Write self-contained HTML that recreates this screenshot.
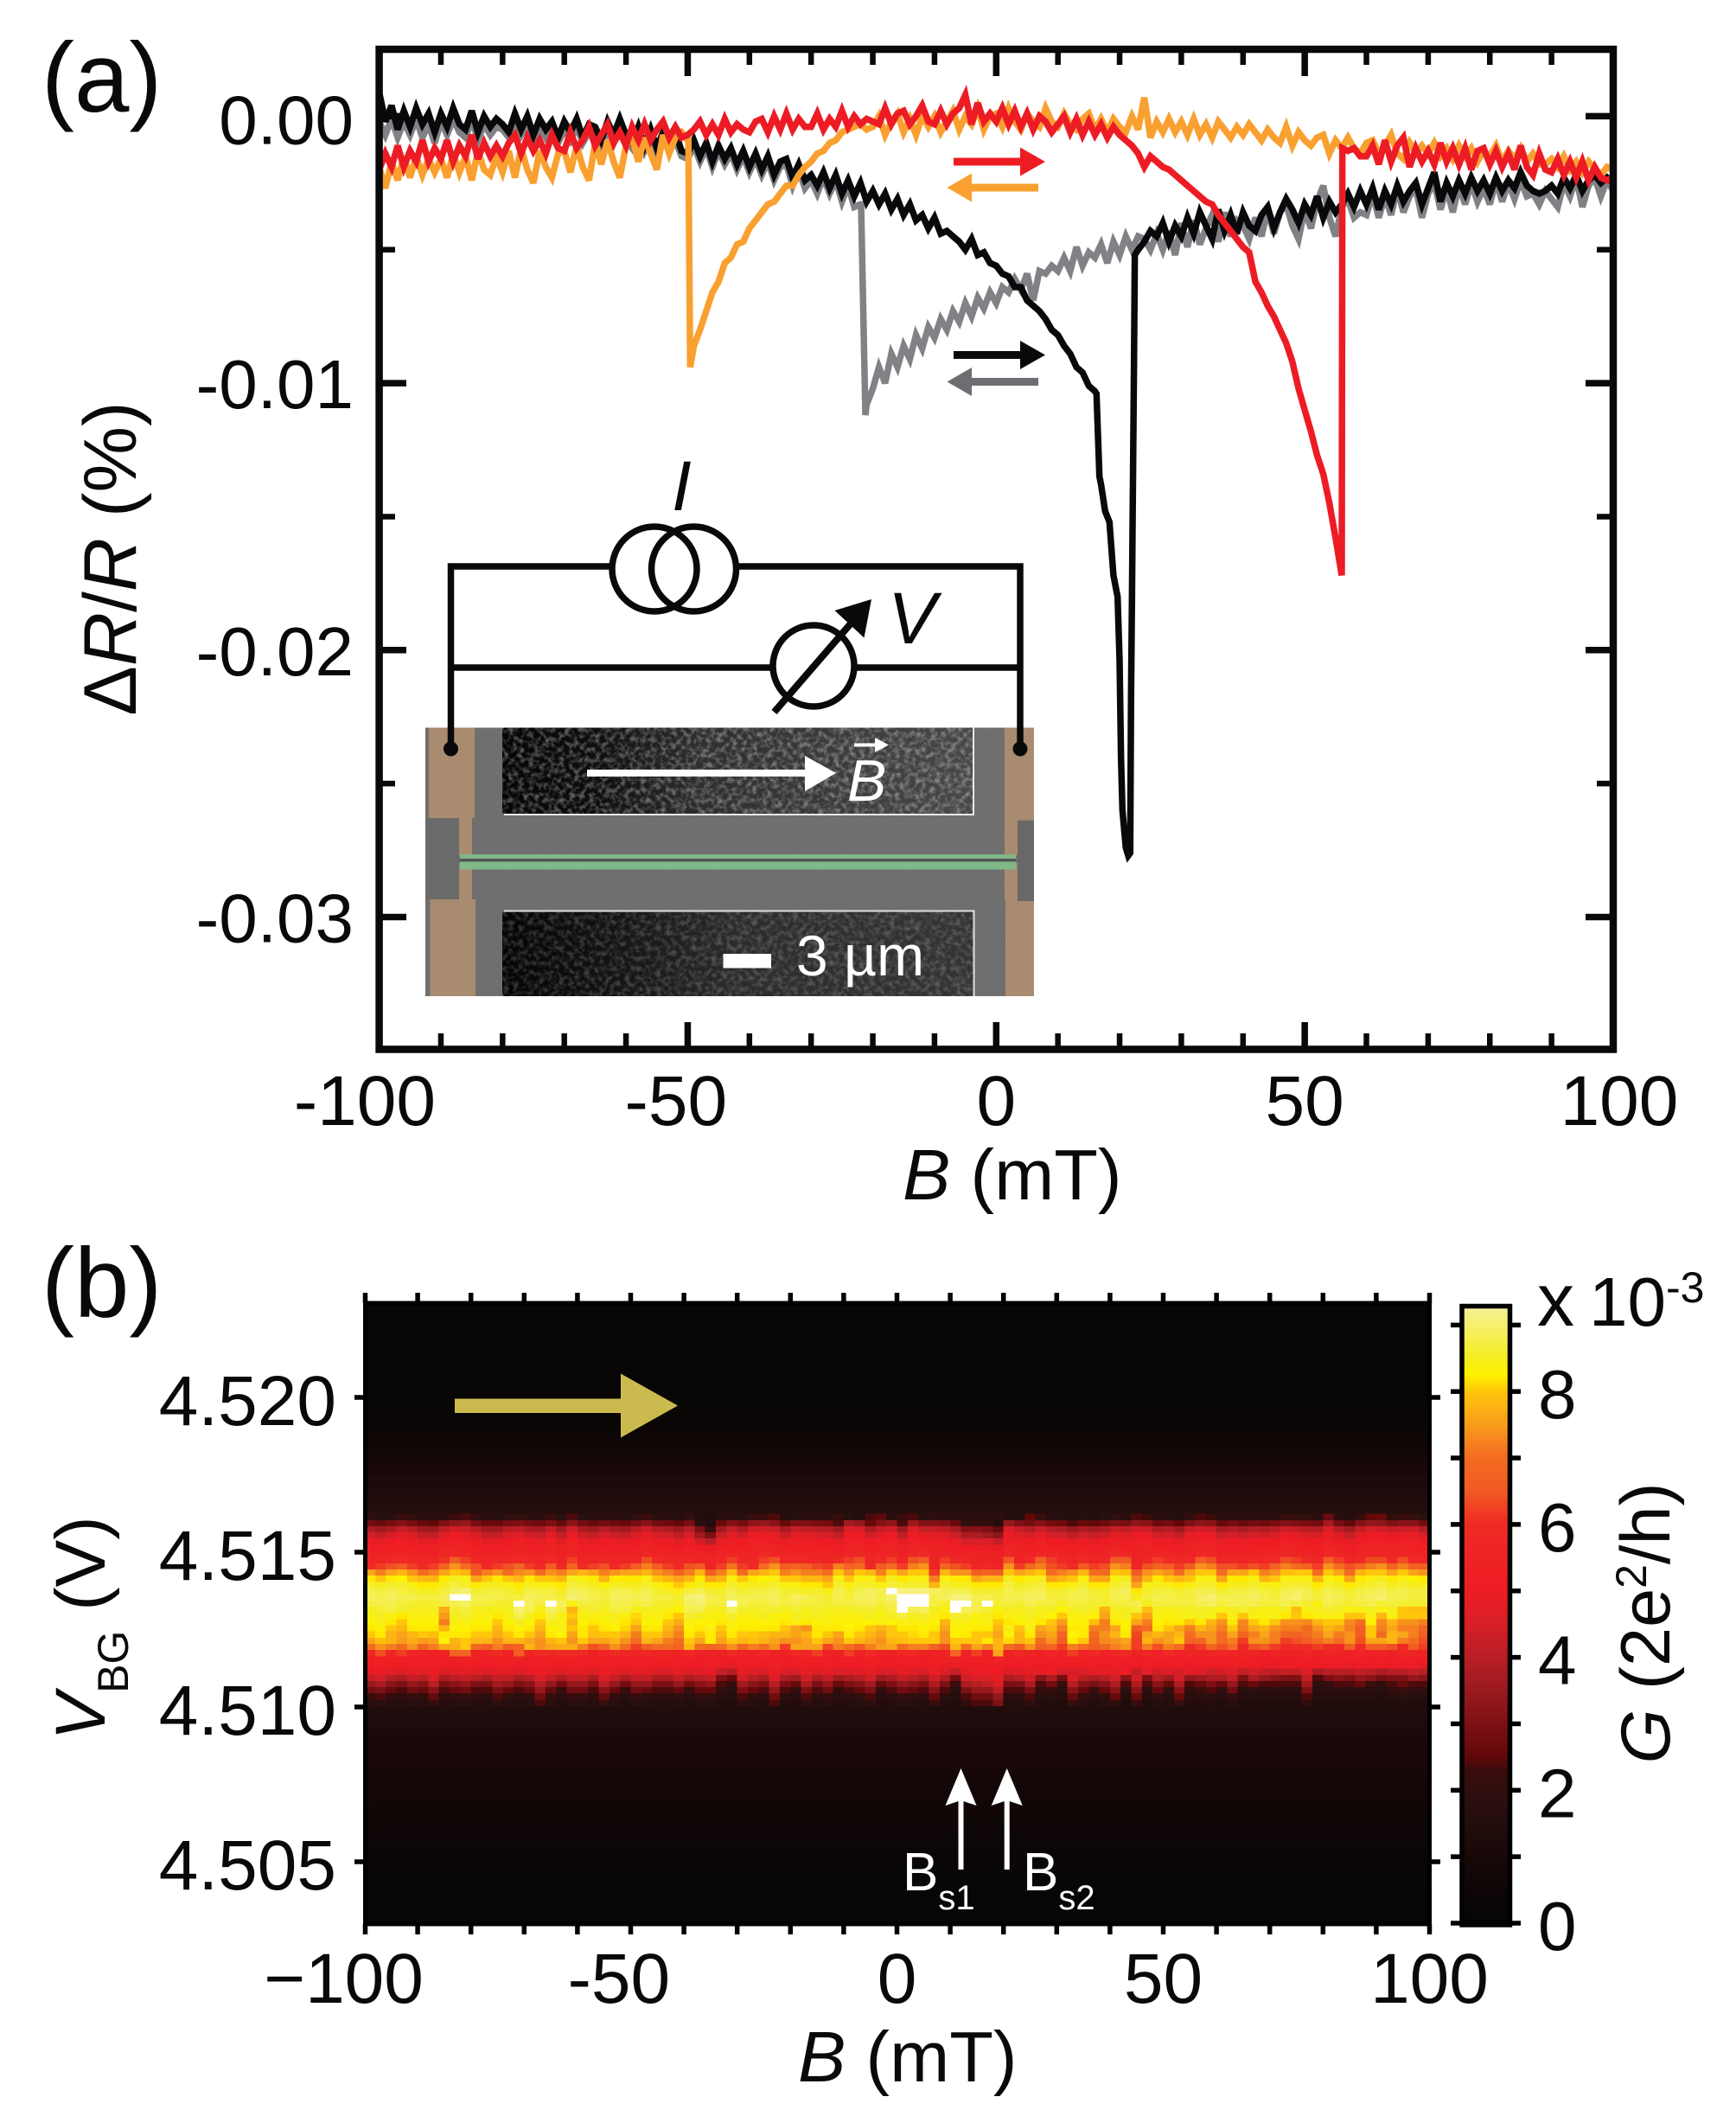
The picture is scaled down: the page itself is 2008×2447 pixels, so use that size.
<!DOCTYPE html>
<html lang="en">
<head>
<meta charset="utf-8">
<title>Magnetoresistance and conductance vs magnetic field</title>
<style>
html,body{margin:0;padding:0;background:#fff}
svg{display:block}
text{font-family:"Liberation Sans",Arial,sans-serif;fill:#08090a}
</style>
</head>
<body>
<svg id="figure" xmlns="http://www.w3.org/2000/svg" width="2008" height="2447" viewBox="0 0 2008 2447">
<defs>
<linearGradient id="window-top" x1="0" x2="1" y1="0" y2="0"><stop offset="0" stop-color="#040404"/><stop offset="0.2" stop-color="#0e0e0e"/><stop offset="0.42" stop-color="#2e2e2e"/><stop offset="1" stop-color="#484848"/></linearGradient>
<linearGradient id="window-bottom" x1="0" x2="1" y1="0" y2="0"><stop offset="0" stop-color="#040404"/><stop offset="0.25" stop-color="#141414"/><stop offset="0.5" stop-color="#2c2c2c"/><stop offset="1" stop-color="#343434"/></linearGradient>
<filter id="sem-bumps" x="0" y="0" width="1" height="1"><feTurbulence type="fractalNoise" baseFrequency="0.17" numOctaves="2" seed="7"/><feColorMatrix type="matrix" values="0 0 0 0 1 0 0 0 0 1 0 0 0 0 1 2.6 0 0 0 -1.05"/></filter>
<filter id="sem-grain" x="0" y="0" width="1" height="1"><feTurbulence type="fractalNoise" baseFrequency="0.9" numOctaves="1" seed="3"/><feColorMatrix type="matrix" values="0 0 0 0 0 0 0 0 0 0 0 0 0 0 0 1.2 0 0 0 -0.35"/></filter>
<linearGradient id="colorbar-gradient" x1="0" x2="0" y1="1" y2="0"></linearGradient>
</defs>

<g id="panel-a">
<g id="a-curves"></g>
<g id="a-axes"></g>
<text x="48" y="129" font-size="114">(a)</text>
<text x="1044" y="1387" font-size="83"><tspan font-style="italic">B</tspan> (mT)</text>
<text transform="translate(157,646) rotate(-90)" text-anchor="middle" font-size="86">Δ<tspan font-style="italic">R</tspan>/<tspan font-style="italic">R</tspan> (%)</text>

<g>
<polygon fill="#ed1c24" points="1103,182.500 1180,182.500 1180,170.500 1209,187 1180,203.500 1180,191.500 1103,191.500"/>
<polygon fill="#f9a030" points="1201,212.500 1124,212.500 1124,200.500 1095.500,217 1124,233.500 1124,221.500 1201,221.500"/>
<polygon fill="#08090a" points="1103,406 1180,406 1180,394 1209,410.500 1180,427 1180,415 1103,415"/>
<polygon fill="#6d6e71" points="1201,437 1124,437 1124,425 1095.500,441.500 1124,458 1124,446 1201,446"/>
</g>

<g>
<rect x="492" y="841.500" width="704" height="310.500" fill="#747474"/>
<rect x="492" y="841.500" width="704" height="310.500" fill="#000" filter="url(#sem-grain)" opacity="0.16"/>
<rect x="581" y="841.500" width="545" height="100" rx="3" fill="url(#window-top)"/>
<rect x="581" y="841.500" width="545" height="100" filter="url(#sem-bumps)" opacity="0.34"/>
<path d="M1126 841.500V942H583" fill="none" stroke="#e8e8e8" stroke-width="2"/>
<rect x="581" y="1054" width="546" height="98" rx="3" fill="url(#window-bottom)"/>
<rect x="581" y="1054" width="546" height="98" filter="url(#sem-bumps)" opacity="0.2"/>
<path d="M583 1053.500H1126.500V1152" fill="none" stroke="#e0e0e0" stroke-width="2"/>
<g fill="#a98b70">
<rect x="496" y="841.500" width="53" height="104.500"/>
<rect x="531" y="946" width="15" height="43"/>
<rect x="531" y="998" width="15" height="42"/>
<rect x="497.500" y="1040" width="52.500" height="112"/>
<rect x="1162" y="841.500" width="34" height="107"/>
<rect x="1162" y="948" width="15" height="41"/>
<rect x="1162" y="998" width="15" height="44"/>
<rect x="1163" y="1042" width="33" height="110"/>
</g>
<rect x="492" y="947" width="39" height="93" fill="#6a6a6a"/>
<rect x="1177" y="950" width="19" height="92" fill="#686868"/>
<rect x="532" y="993" width="643" height="3.500" fill="#555"/>
<rect x="532" y="988" width="643" height="5" fill="#7fb78a"/>
<rect x="532" y="996.500" width="643" height="9" fill="#7fb98a"/>
<g fill="#fff">
<polygon points="679,890 931,890 931,874 967,894 931,915 931,898 679,898"/>
<text x="980" y="926" font-size="68" font-style="italic" style="fill:#fff">B</text>
<polygon points="988,859.500 1012,859.500 1012,853 1028,861.500 1012,870 1012,863.500 988,863.500"/>
</g>
<rect x="836.500" y="1103" width="55.500" height="16.500" fill="#fff"/>
<text x="921" y="1128" font-size="66" style="fill:#fff">3 µm</text>
</g>

<g fill="none" stroke="#08090a" stroke-width="7.500">
<path d="M521.500 866V655H705M854 655H1180V866"/>
<path d="M521.500 772H891.500M991 772H1180"/>
<circle cx="757" cy="658" r="49"/>
<circle cx="802.500" cy="658" r="49"/>
<circle cx="941" cy="770" r="47"/>
<line x1="895.500" y1="823.500" x2="985" y2="720" stroke-width="8"/>
<polygon fill="#08090a" stroke="none" points="1008,693 965.500,706 999.500,737.500"/>
<circle cx="521.500" cy="866" r="8.500" fill="#08090a" stroke="none"/>
<circle cx="1180" cy="866" r="8.500" fill="#08090a" stroke="none"/>
</g>
<text x="777" y="590" font-size="82" font-style="italic">I</text>
<text x="1027" y="744" font-size="84" font-style="italic">V</text>
</g>

<g id="panel-b">
<rect x="422" y="1507" width="1232" height="718" fill="#080505"/>
<g id="heatmap" shape-rendering="crispEdges"></g>
<g id="b-axes"></g>
<text x="48" y="1523" font-size="114">(b)</text>
<text x="923" y="2407" font-size="83"><tspan font-style="italic">B</tspan> (mT)</text>
<text transform="translate(121,1883) rotate(-90)" text-anchor="middle" font-size="82"><tspan font-style="italic">V</tspan><tspan font-size="50" dy="27">BG</tspan><tspan dy="-27"> (V)</tspan></text>
<polygon fill="#cbbb4f" points="526,1617.500 718,1617.500 718,1588.500 784,1625.500 718,1662.500 718,1634 526,1634"/>
<g fill="#fff">
<polygon points="1111.500,2045 1129.500,2088 1114.500,2083 1114.500,2162 1108.500,2162 1108.500,2083 1093.500,2088"/>
<polygon points="1164.700,2045 1182.700,2088 1167.700,2083 1167.700,2162 1161.700,2162 1161.700,2083 1146.700,2088"/>
<text x="1044" y="2186" font-size="62" style="fill:#fff">B<tspan font-size="40" dy="22" style="fill:#fff">s1</tspan></text>
<text x="1183" y="2186" font-size="62" style="fill:#fff">B<tspan font-size="40" dy="22" style="fill:#fff">s2</tspan></text>
</g>
<g id="colorbar"></g>
<text x="1778" y="1533" font-size="80"><tspan font-size="86">x</tspan><tspan x="1838"> </tspan><tspan x="1838">10</tspan><tspan font-size="50" dy="-27">-3</tspan></text>
<text transform="translate(1931,1877) rotate(-90)" text-anchor="middle" font-size="81"><tspan font-style="italic">G</tspan> (2e<tspan font-size="50" dy="-27">2</tspan><tspan dy="27">/h)</tspan></text>
</g>
</svg>

<script>
// ---------- Panel (a) data: dR/R in units of 1e-4 % on a 1 mT sweep grid ----------
const sweepField=[-100,-99,-98,-97,-96,-95,-94,-93,-92,-91,-90,-89,-88,-87,-86,-85,-84,-83,-82,-81,-80,-79,-78,-77,-76,-75,-74,-73,-72,-71,-70,-69,-68,-67,-66,-65,-64,-63,-62,-61,-60,-59,-58,-57,-56,-55,-54,-53,-52,-51,-50,-49,-48,-47,-46,-45,-44,-43,-42,-41,-40,-39,-38,-37,-36,-35,-34,-33,-32,-31,-30,-29,-28,-27,-26,-25,-24,-23,-22,-21,-20,-19,-18,-17,-16,-15,-14,-13,-12,-11,-10,-9,-8,-7,-6,-5,-4,-3,-2,-1,0,1,2,3,4,5,6,7,8,9,10,11,12,13,14,15,16,17,18,19,20,21,22,23,24,25,26,27,28,29,30,31,32,33,34,35,36,37,38,39,40,41,42,43,44,45,46,47,48,49,50,51,52,53,54,55,56,57,58,59,60,61,62,63,64,65,66,67,68,69,70,71,72,73,74,75,76,77,78,79,80,81,82,83,84,85,86,87,88,89,90,91,92,93,94,95,96,97,98,99,100];
const greyValues=[-2,-7,-1,-8,-2,-7,-1,-8,-3,-10,-2,-7,-1,-6,-8,-1,-9,-3,-7,-4,-5,-8,-2,-7,-3,-9,-4,-8,-5,-10,-5,-9,-4,-10,-6,-7,-11,-5,-10,-4,-9,-12,-6,-13,-8,-14,-8,-13,-9,-15,-16,-11,-17,-12,-19,-13,-18,-14,-20,-15,-21,-16,-22,-17,-24,-19,-18,-26,-20,-27,-24,-29,-23,-29,-24,-32,-26,-34,-33,-108,-102,-94,-100,-89,-94,-86,-91,-82,-87,-79,-83,-76,-80,-73,-77,-70,-75,-68,-72,-66,-70,-64,-66,-61,-65,-59,-69,-58,-59,-56,-58,-53,-58,-49,-56,-51,-53,-48,-55,-47,-52,-45,-50,-45,-46,-50,-44,-50,-43,-52,-40,-49,-39,-48,-42,-37,-47,-36,-45,-39,-41,-46,-38,-45,-35,-44,-36,-33,-41,-46,-35,-42,-32,-26,-38,-45,-34,-31,-38,-36,-37,-29,-38,-30,-37,-27,-36,-30,-27,-38,-29,-25,-35,-27,-36,-26,-33,-25,-32,-27,-33,-24,-32,-25,-31,-24,-30,-29,-33,-28,-31,-34,-25,-30,-23,-34,-26,-23,-30,-24,-28];
const greyDipField=[-21.9,-21.2];
const greyDipValues=[-33,-112];
const blackValues=[9,-2,4,-5,2,-4,3,-3,1,-6,1,-4,3,-3,-5,2,-6,0,-4,-1,-3,-6,1,-5,0,-7,-1,-5,-2,-8,-2,-6,-1,-8,-3,-4,-9,-2,-7,-1,-7,-10,-4,-11,-5,-12,-6,-10,-6,-13,-14,-9,-15,-10,-17,-11,-16,-12,-18,-13,-19,-14,-20,-15,-22,-17,-16,-23,-18,-24,-22,-26,-21,-27,-22,-29,-24,-30,-25,-32,-28,-33,-29,-35,-31,-37,-33,-39,-37,-42,-38,-44,-43,-45,-47,-50,-46,-52,-51,-55,-56,-59,-60,-64,-64,-69,-71,-73,-76,-80,-82,-86,-89,-94,-96,-101,-103,-138,-150,-172,-204,-274,-182,-50,-47,-43,-45,-40,-47,-41,-45,-38,-44,-36,-41,-46,-35,-43,-37,-44,-36,-41,-43,-37,-34,-42,-36,-31,-35,-40,-33,-37,-30,-38,-32,-36,-33,-29,-34,-28,-33,-27,-35,-28,-33,-26,-32,-28,-25,-33,-27,-21,-32,-25,-30,-24,-29,-23,-28,-24,-29,-23,-28,-24,-27,-21,-26,-28,-29,-28,-26,-29,-23,-27,-22,-28,-24,-22,-25,-23,-25];
const blackDipField=[16.25,16.73,17.65,18.35,19.67,20.23,20.46,21.4,21.72,21.86,22.1,22.33,22.46];
const blackDipValues=[-104,-135,-148,-152,-180,-241,-260,-277,-276,-216,-154,-92,-52];
const orangeValues=[-19,-27,-17,-24,-15,-23,-15,-22,-16,-21,-16,-23,-14,-21,-15,-24,-13,-20,-22,-15,-21,-13,-23,-12,-20,-25,-13,-19,-23,-14,-13,-21,-11,-19,-24,-10,-18,-9,-17,-23,-11,-8,-17,-8,-14,-20,-7,-14,-8,-6,-9,-86,-80,-73,-66,-62,-55,-53,-48,-47,-42,-39,-36,-33,-32,-29,-26,-26,-22,-19,-17,-14,-13,-10,-9,-6,-5,-4,-3,-5,-4,0,-7,-2,1,-6,-1,-7,0,-4,0,-6,-2,2,-5,0,-3,3,-5,0,1,-4,3,-2,-5,1,-2,-4,3,-2,-4,1,-3,-5,-1,1,-5,-1,-6,-1,-4,-6,0,-5,7,-8,-2,-6,-1,-6,-2,-7,-1,-7,-3,-8,-2,-5,-8,-4,-7,-3,-6,-9,-5,-8,-10,-4,-11,-6,-9,-11,-8,-7,-14,-9,-12,-8,-12,-14,-10,-9,-14,-11,-7,-14,-16,-10,-14,-11,-14,-10,-15,-12,-16,-11,-15,-12,-17,-13,-15,-11,-17,-13,-16,-12,-17,-14,-18,-18,-16,-19,-15,-20,-17,-21,-17,-20,-22,-19,-20];
const orangeDipField=[-49.9,-49.6];
const orangeDipValues=[-9,-94];
const redValues=[-20,-14,-19,-11,-19,-13,-17,-9,-17,-12,-16,-9,-17,-11,-15,-7,-16,-10,-15,-11,-15,-10,-7,-14,-8,-13,-9,-14,-7,-12,-13,-6,-12,-9,-4,-11,-7,-3,-10,-6,-11,-4,-9,-3,-9,-5,-2,-8,-4,-8,-7,-5,-2,-7,-3,-7,-1,-6,-3,-5,-6,-2,-1,-6,0,-5,1,-5,-1,-4,-4,1,-5,-1,-4,2,-4,0,-3,-1,-2,-3,3,-3,1,2,-3,0,4,-2,-3,2,-3,1,3,8,-3,5,-2,1,-2,3,-3,2,-4,1,-5,0,-2,-6,-3,0,-6,-1,-7,-2,-7,-3,-8,-4,-7,-9,-11,-14,-19,-15,-17,-19,-20,-22,-24,-26,-28,-30,-32,-33,-37,-40,-43,-46,-49,-51,-62,-66,-71,-75,-80,-85,-92,-102,-110,-118,-127,-134,-145,-158,-172,-13,-12,-15,-15,-11,-18,-9,-17,-11,-8,-19,-12,-17,-13,-18,-10,-17,-12,-18,-12,-20,-13,-12,-18,-13,-19,-14,-20,-11,-19,-22,-14,-20,-21,-16,-22,-17,-23,-17,-24,-19,-23,-24,-23];
const redDipField=[56.1];
const redDipValues=[-12];

// ---------- Panel (a) axis ticks ----------
const aXMajorTicks=[-100,-50,0,50,100];
const aXMinorTicks=[-90,-80,-70,-60,-40,-30,-20,-10,10,20,30,40,60,70,80,90];
const aYMajorTicks=[0,-0.01,-0.02,-0.03];
const aYMinorTicks=[-0.005,-0.015,-0.025];
const aXTickLabels=["-100","-50","0","50","100"];
const aYTickLabels=["0.00","-0.01","-0.02","-0.03"];

// ---------- Panel (b) data: G in units of 1e-4 (2e2/h), rows indexed from the top of the map ----------
const topRowValues=[1,1,1,1,1,1,1,1,1,1,1,1,1,1,2,2,2,3,3,3,4,5,6,7,8,9,10,11,12,12,13,14,15,16];
const bottomRowValues=[14,13,13,12,12,11,11,10,10,10,9,9,8,8,8,7,7,6,6,5,5,4,4,3,3,3,2,2,2,2,1,1,1,1,1];
const row34=[20,17,18,22,20,18,17,19,23,24,20,18,17,20,21,18,19,22,18,24,18,17,19,18,17,20,23,19,18,17,21,15,13,17,19,18,22,23,24,16,18,19,18,17,22,17,15,24,25,18,23,24,17,20,19,19,18,17,19,18,16,15,25,23,17,17,16,17,16,18,20,19,24,23,17,18,16,20,24,23,17,18,17,18,17,18,22,21,20,19,27,19,16,22,25,26,20,22,22,18];
const row35=[28,26,28,31,29,26,25,30,33,34,29,26,26,29,30,28,27,30,26,32,28,26,28,27,26,29,32,28,27,25,29,18,16,26,31,28,33,34,32,26,30,30,29,28,24,36,34,26,31,33,24,35,31,31,30,26,20,21,20,16,34,30,28,31,28,27,24,26,25,27,30,29,33,32,27,28,25,30,33,32,26,28,26,28,27,29,31,30,29,28,36,29,25,31,34,33,30,32,32,28];
const row36=[38,36,38,42,40,36,35,41,44,43,40,36,36,40,41,38,37,42,36,44,38,36,39,37,36,40,43,39,38,35,40,30,22,36,42,38,44,44,43,37,42,41,40,39,36,46,45,38,42,44,36,46,42,42,41,37,31,32,30,26,45,42,39,43,39,38,35,38,36,38,42,41,44,43,38,39,36,42,44,43,37,39,37,39,38,40,43,42,40,39,46,40,36,42,45,44,42,43,43,39];
const row37=[44,42,45,48,46,42,42,47,50,49,46,42,42,46,47,44,43,48,42,49,44,42,45,43,42,46,49,45,44,41,46,36,30,43,48,44,50,49,49,43,48,47,46,45,42,50,50,44,48,50,42,51,48,48,47,43,38,38,36,33,50,47,45,49,45,44,41,44,42,44,48,47,50,49,44,45,42,48,50,49,43,45,43,45,44,46,49,48,46,45,51,46,42,48,50,50,48,49,49,45];
const row38=[49,48,50,52,51,48,48,52,54,53,51,48,48,51,52,50,49,53,48,53,49,48,50,49,48,51,53,50,50,47,51,44,40,49,52,50,53,53,52,49,52,52,51,50,48,53,53,50,52,53,48,53,52,52,51,49,45,45,46,42,53,52,50,53,50,50,48,50,48,50,52,52,53,53,50,50,48,52,53,53,49,50,49,50,50,51,53,52,51,50,53,51,48,52,53,53,52,53,53,50];
const row39=[52,52,53,54,53,52,52,54,55,54,53,52,52,53,54,53,52,54,52,55,52,52,53,52,52,53,54,53,53,51,53,51,49,53,54,53,54,54,54,52,54,54,53,53,52,54,54,53,54,54,52,54,54,54,53,52,50,51,52,49,54,54,53,54,53,53,52,53,52,53,54,53,54,54,53,53,52,54,54,54,52,53,52,53,53,53,54,54,53,53,55,54,52,54,55,55,54,54,54,53];
const row40=[54,54,55,56,55,54,54,57,58,56,55,54,54,55,56,55,54,56,54,57,54,54,55,54,54,55,57,55,55,54,55,54,53,55,56,55,56,58,56,55,56,56,55,55,54,56,57,55,56,57,54,57,58,55,55,54,53,54,54,53,57,55,55,58,56,55,54,56,54,55,59,58,54,55,56,55,54,55,58,57,54,55,54,55,55,56,57,56,55,54,58,56,54,56,57,57,56,57,56,55];
const row41=[56,56,58,60,58,56,56,61,66,62,58,56,57,58,60,58,56,60,56,62,56,56,58,56,56,58,64,60,58,56,58,55,56,58,62,57,58,62,64,58,60,58,57,56,60,62,64,56,60,62,56,64,66,55,62,57,56,54,54,54,65,55,60,67,62,58,56,60,56,58,66,65,55,58,62,60,58,60,66,64,57,58,56,58,58,60,64,62,60,57,66,62,56,60,63,63,60,64,60,58];
const row42=[60,62,64,66,62,60,62,68,74,70,64,60,62,64,68,62,60,66,60,68,60,62,64,60,62,66,72,66,62,60,64,66,56,62,71,62,60,70,74,66,68,66,63,62,72,68,70,60,66,70,62,72,74,55,68,64,62,56,58,56,74,62,70,72,64,62,60,66,62,64,74,72,56,64,68,66,62,66,74,72,64,64,62,64,62,68,72,70,67,62,74,70,64,68,72,74,68,72,67,66];
const row43=[76,72,76,78,74,70,72,76,80,78,66,72,74,70,73,74,70,74,72,76,78,76,72,74,76,76,78,74,72,68,72,78,66,72,79,70,76,78,80,72,74,72,72,70,80,74,80,78,72,80,76,80,80,62,78,74,74,66,68,66,80,76,78,80,70,72,74,78,70,70,80,79,65,74,76,74,70,76,80,80,70,76,76,80,72,74,79,80,80,70,80,76,70,78,80,80,76,80,76,74];
const row44=[82,80,82,83,80,78,78,82,85,84,76,80,82,80,78,82,80,80,78,85,84,82,78,82,82,82,84,80,78,76,78,82,76,78,84,80,82,83,84,80,80,78,78,76,84,80,84,84,80,85,82,84,84,72,84,82,82,76,78,78,85,82,84,85,76,78,80,84,76,76,84,85,72,78,82,80,78,80,84,84,76,82,82,84,78,80,84,84,84,78,84,82,76,82,84,85,82,84,83,82];
const row45=[86,85,86,86,84,82,82,85,87,86,82,85,85,84,82,85,84,84,82,87,86,85,83,85,85,85,86,84,82,80,82,85,82,82,86,84,85,85,86,84,84,82,82,80,86,84,86,86,84,87,86,86,86,78,86,85,85,82,82,82,87,85,86,87,82,82,84,86,82,82,86,87,76,84,85,84,82,84,86,86,82,85,85,86,84,84,86,86,86,82,86,85,82,85,86,87,85,86,85,85];
const row46=[88,87,88,87,86,85,85,87,89,90,86,87,87,86,85,88,87,87,85,89,88,87,86,88,88,87,88,86,85,84,87,88,86,86,88,86,87,87,88,86,86,85,86,84,88,86,88,89,88,94,91,91,91,89,88,88,88,86,86,86,88,87,88,88,86,86,87,88,86,86,88,89,82,86,87,87,86,87,88,88,86,87,87,88,87,86,88,89,88,86,88,87,86,87,88,89,87,88,87,87];
const row47=[89,88,89,88,88,87,87,88,94,94,88,88,88,87,87,89,88,88,87,90,89,88,87,89,89,88,89,87,87,86,90,91,88,87,89,88,88,88,89,87,89,88,87,86,88,87,89,89,88,90,94,94,94,88,89,91,91,88,88,87,88,88,89,89,87,87,88,88,87,86,88,88,85,87,88,88,87,87,89,90,88,88,88,89,88,87,89,90,88,87,89,88,87,88,89,90,88,88,87,87];
const row48=[87,88,88,87,86,86,86,87,88,89,87,87,86,86,94,89,87,94,89,84,87,87,86,88,88,87,88,86,86,85,89,90,87,87,93,88,87,87,88,87,88,87,87,86,87,87,88,88,87,88,94,94,94,87,86,94,94,88,94,86,87,86,88,87,87,85,87,87,86,86,87,87,88,85,87,87,87,87,88,89,87,88,88,88,87,87,88,87,86,84,88,87,86,87,88,86,87,86,86,86];
const row49=[85,86,87,86,85,85,85,77,86,87,85,85,84,85,90,88,84,89,87,78,85,86,85,87,87,84,85,85,84,83,88,88,85,85,89,86,85,86,86,85,86,85,86,85,85,85,86,86,85,87,94,88,89,85,84,94,89,88,86,84,85,85,86,85,85,83,85,86,85,78,85,85,86,79,85,84,85,85,86,85,84,85,86,85,84,84,85,79,84,85,86,85,84,84,85,84,85,80,79,79];
const row50=[84,85,84,82,84,84,84,75,85,86,84,84,82,84,88,85,82,87,84,80,84,84,84,85,84,81,84,84,82,80,86,85,84,84,86,84,84,85,84,83,85,84,85,84,84,84,84,85,84,85,87,85,86,84,82,86,86,84,85,82,84,84,85,84,83,80,84,84,83,76,84,85,80,76,84,83,84,84,85,84,80,84,80,84,84,84,82,80,82,84,84,84,80,80,84,78,84,80,80,80];
const row51=[83,84,82,80,83,83,83,72,84,84,83,83,80,83,85,83,80,85,84,78,83,82,83,84,82,80,83,83,80,77,84,83,83,82,84,83,83,83,83,82,84,82,83,84,83,83,83,83,84,83,84,84,84,83,78,84,84,83,84,80,82,83,84,82,80,75,83,83,79,72,82,83,76,72,83,82,82,80,82,78,74,82,73,80,82,80,74,74,73,78,80,80,73,70,83,73,78,74,74,72];
const row52=[82,83,80,78,82,82,82,78,83,83,82,82,78,82,83,82,78,83,84,80,82,80,82,83,81,76,82,82,78,74,83,82,84,80,83,82,82,82,82,80,76,74,82,82,82,83,82,80,78,80,82,82,83,82,76,83,83,82,82,78,84,80,84,76,78,72,82,82,72,72,76,83,66,70,82,80,76,72,78,76,72,80,72,76,78,74,72,72,70,74,78,76,72,66,80,72,76,72,72,68];
const row53=[80,82,78,76,78,80,79,82,82,82,80,80,77,80,82,80,76,82,83,76,82,79,80,80,78,72,80,80,76,72,82,80,82,78,82,80,80,79,78,78,76,78,82,80,76,82,80,78,76,80,80,81,82,80,74,83,82,80,80,76,83,78,82,74,76,68,83,82,70,74,78,82,63,76,78,76,78,70,74,74,70,76,68,72,76,72,68,68,70,72,76,72,74,66,80,70,78,76,72,66];
const row54=[76,79,78,75,77,75,76,83,78,80,78,78,74,78,78,76,74,78,80,74,80,76,76,78,74,70,78,76,72,70,80,76,82,76,80,78,79,78,76,74,74,76,80,76,74,80,78,76,74,78,79,80,80,80,74,80,80,80,82,78,81,78,80,70,74,66,82,80,68,73,74,76,62,78,74,76,80,68,68,74,70,72,62,74,74,72,62,64,66,70,72,70,74,64,76,76,78,72,70,64];
const row55=[70,74,72,70,74,68,72,76,77,80,69,66,72,66,68,78,74,76,77,77,72,64,68,74,70,62,66,70,70,68,78,70,68,70,74,68,72,70,74,62,76,76,76,63,72,70,66,72,75,76,70,72,72,68,64,78,70,76,72,78,70,66,74,66,68,62,72,70,66,68,72,74,62,72,64,72,70,60,62,68,64,70,58,64,66,62,60,60,60,62,60,60,66,60,66,66,64,60,66,62];
const row56=[58,64,57,62,56,56,54,56,68,68,54,56,60,54,66,56,60,58,60,60,58,54,56,60,56,55,58,56,56,54,58,54,55,54,60,56,54,57,54,54,58,56,62,54,54,62,54,60,54,54,58,58,54,54,55,68,54,62,54,76,54,58,56,54,56,54,62,56,60,54,56,60,54,56,54,60,56,56,55,56,58,56,54,56,54,56,54,54,56,54,56,55,54,56,54,55,54,56,55,54];
const row57=[52,53,53,52,52,52,54,52,53,53,53,52,52,53,54,52,52,53,54,53,52,53,53,52,52,52,52,53,53,52,53,52,53,52,52,52,52,53,52,52,52,54,53,52,52,53,52,53,52,52,52,52,52,53,53,53,52,52,53,54,52,53,52,52,53,52,52,53,52,52,53,52,52,52,53,52,52,53,52,52,52,53,53,52,52,52,52,52,53,52,52,52,53,52,52,52,52,53,52,52];
const row58=[51,52,51,50,51,51,52,50,50,51,50,50,51,51,50,51,52,51,50,51,51,50,52,51,50,51,51,50,50,51,50,50,51,49,48,50,51,50,52,50,50,51,50,51,50,50,50,51,50,50,50,51,50,51,50,49,50,51,50,52,50,50,51,50,50,50,51,50,51,50,51,50,50,51,50,50,51,50,50,50,50,51,49,50,50,49,50,51,50,50,50,50,49,50,50,50,49,50,50,48];
const row59=[48,50,47,46,48,48,50,46,47,48,47,46,48,48,46,48,50,48,46,48,48,46,50,48,46,48,48,46,46,48,46,47,48,42,40,48,47,46,50,46,45,48,46,48,46,46,47,48,45,46,48,47,46,49,46,42,48,49,50,50,46,47,48,48,50,44,45,46,48,48,48,50,42,48,44,46,44,48,46,43,44,46,42,44,42,41,42,42,46,38,40,40,40,42,40,38,40,40,42,40];
const row60=[42,45,40,38,42,40,46,38,40,42,40,38,42,42,38,40,46,42,38,42,42,38,46,42,38,42,42,38,38,42,38,40,42,30,26,44,40,38,46,38,36,44,38,42,36,38,40,44,36,38,42,40,38,44,38,28,44,46,46,48,38,40,44,32,38,28,46,40,38,40,44,32,44,30,40,36,44,34,36,38,38,42,30,38,34,32,30,30,42,24,30,32,30,34,32,28,30,30,34,32];
const row61=[34,38,32,30,34,32,40,30,32,34,30,30,36,34,30,32,40,34,28,34,34,30,40,34,28,34,34,30,30,34,28,32,34,24,22,36,32,30,40,30,26,38,30,34,26,30,32,36,26,30,34,32,30,38,30,22,38,40,42,46,30,30,38,24,28,22,40,32,30,32,38,24,38,24,32,26,38,24,26,30,26,34,24,26,24,24,24,24,36,20,22,24,24,26,22,20,24,26,24,24];
const row62=[28,30,26,24,28,26,32,24,26,28,24,24,30,26,24,26,34,26,22,28,28,24,32,26,22,28,26,24,24,26,22,26,26,20,18,30,26,24,34,24,20,30,24,28,20,24,26,30,20,24,28,26,24,32,24,18,30,34,34,40,24,24,30,20,22,18,32,26,22,26,32,18,32,18,26,20,32,20,22,24,20,28,18,20,18,18,18,18,30,18,18,18,18,20,18,17,20,22,20,20];
const row63=[22,24,20,20,22,20,26,19,20,22,20,19,24,20,19,20,28,22,18,22,22,19,26,20,18,22,20,19,19,20,18,21,20,17,16,24,20,19,28,19,17,24,19,22,17,19,20,24,17,19,22,20,19,26,19,16,24,28,28,34,19,19,24,17,18,16,26,20,18,20,26,16,26,16,20,17,26,17,18,19,17,22,16,17,16,16,16,16,24,16,16,16,16,17,16,15,17,18,17,17];
const row64=[17,19,17,16,18,17,22,16,17,18,16,16,20,17,16,17,24,18,15,18,18,16,22,17,15,18,17,16,16,17,15,17,17,15,14,20,17,16,24,16,15,20,16,18,15,16,17,20,15,16,18,17,16,22,16,14,20,24,24,30,16,16,20,15,15,14,22,17,15,17,20,14,22,14,17,15,22,15,15,16,15,18,14,15,14,14,14,14,20,14,14,14,14,15,14,14,15,15,15,15];
const coreRows=[row34,row35,row36,row37,row38,row39,row40,row41,row42,row43,row44,row45,row46,row47,row48,row49,row50,row51,row52,row53,row54,row55,row56,row57,row58,row59,row60,row61,row62,row63,row64];

// ---------- Panel (b) axes and colour scale ----------
const bXTicks=[-100,-90,-80,-70,-60,-50,-40,-30,-20,-10,0,10,20,30,40,50,60,70,80,90,100];
const bXLabelTicks=[-100,-50,0,50,100];
const bXTickLabels=["−100","-50","0","50","100"];
const bYTicks=[4.52,4.515,4.51,4.505];
const bYTickLabels=["4.520","4.515","4.510","4.505"];
const colorbarTicks=[0,1,2,3,4,5,6,7,8,9];
const colorbarLabelTicks=[0,2,4,6,8];
const colorbarTickLabels=["0","2","4","6","8"];
const colorLevels=[0,1,1.8,2.3,2.5,3,3.5,4,4.5,5,6,6.5,7,7.5,8,8.25,8.5,9.25];
const colorHex=["#050505","#180808","#2a0f0f","#3a0c0c","#610809","#7d1014","#9a1a1e","#b81f25","#d81f27","#ed1c24","#ef2a25","#f15a22","#f36b21","#f89c1c","#ffc60b","#fff200","#f5ed1e","#f6f194"];

// ---------- Scales ----------
const ink="#08090a";
const xA=b=>1152.3+7.137*b;
const yA=v=>134.4-30870*v;
const xH=b=>1037.5+6.16*b;
const yH=v=>1616+(4.52-v)*35800;
const yC=g=>2224-76.85*g;
const heatTopV=4.52304;
const rowStepV=0.0002;
const colStepB=2;

const NS="http://www.w3.org/2000/svg";
function mk(tag,attrs,parent,content){
  const el=document.createElementNS(NS,tag);
  for(const k in attrs){el.setAttribute(k,attrs[k]);}
  if(content!==undefined){el.textContent=content;}
  parent.appendChild(el);
  return el;
}
function hexRgb(h){return [parseInt(h.slice(1,3),16),parseInt(h.slice(3,5),16),parseInt(h.slice(5,7),16)];}
function colorFor(g){
  if(g>9.25){return "#ffffff";}
  for(let i=1;i<colorLevels.length;i++){
    if(g<=colorLevels[i]){
      const t=(g-colorLevels[i-1])/(colorLevels[i]-colorLevels[i-1]);
      const a=hexRgb(colorHex[i-1]),b=hexRgb(colorHex[i]);
      return "rgb("+a.map((c,j)=>Math.round(c+(b[j]-c)*t)).join(",")+")";
    }
  }
  return colorHex[colorHex.length-1];
}

// ---------- Panel (a) curves ----------
const curvesG=document.getElementById("a-curves");
function buildPoints(values,dipField,dipValues){
  const pts=sweepField.map((b,i)=>[b,values[i]*1e-4]);
  dipField.forEach((b,i)=>pts.push([b,dipValues[i]*1e-4]));
  pts.sort((p,q)=>p[0]-q[0]);
  return pts.map(p=>xA(p[0]).toFixed(1)+","+yA(p[1]).toFixed(1)).join(" ");
}
const curveAttrs={fill:"none","stroke-width":7.5,"stroke-linejoin":"miter","stroke-miterlimit":3.2};
const greyCurve=mk("polyline",Object.assign({points:buildPoints(greyValues,greyDipField,greyDipValues),stroke:"#808285"},curveAttrs),curvesG);


const blackCurve=mk("polyline",Object.assign({points:buildPoints(blackValues,blackDipField,blackDipValues),stroke:ink},curveAttrs),curvesG);


const orangeCurve=mk("polyline",Object.assign({points:buildPoints(orangeValues,orangeDipField,orangeDipValues),stroke:"#f9a030"},curveAttrs),curvesG);


const redCurve=mk("polyline",Object.assign({points:buildPoints(redValues,redDipField,redDipValues),stroke:"#ed1c24"},curveAttrs),curvesG);



// ---------- Panel (a) axes ----------
const aAxes=document.getElementById("a-axes");
const frameA=mk("rect",{x:xA(-100),y:57,width:xA(100)-xA(-100),height:1213.5-57,fill:"none",stroke:ink,"stroke-width":8.5},aAxes);


function aXTick(b,len,w){
  const x=xA(b);
  const top=mk("line",{x1:x,x2:x,y1:57,y2:61+len,stroke:ink,"stroke-width":w},aAxes);
  
  
  const bottom=mk("line",{x1:x,x2:x,y1:1213.5,y2:1209-len,stroke:ink,"stroke-width":w},aAxes);
  
  
}
function aYTick(v,len,w){
  const y=yA(v);
  const left=mk("line",{x1:438,x2:443+len,y1:y,y2:y,stroke:ink,"stroke-width":w},aAxes);
  
  
  const right=mk("line",{x1:1866,x2:1861-len,y1:y,y2:y,stroke:ink,"stroke-width":w},aAxes);
  
  
}
aXMajorTicks.forEach(b=>aXTick(b,27,7.5));
aXMinorTicks.forEach(b=>aXTick(b,14,6.5));
aYMajorTicks.forEach(v=>aYTick(v,27,7.5));
aYMinorTicks.forEach(v=>aYTick(v,14,6.5));
aXMajorTicks.forEach((b,i)=>{
  const s=aXTickLabels[i];
  const digits=s.replace(/[^0-9]/g,"").length;
  const nudge=b===100?7:(b===-100?-3:0);
  const t=mk("text",{x:xA(b)+digits*22.8+nudge,y:1301,"font-size":82,"text-anchor":"end"},aAxes,s);
  
  
});
aYMajorTicks.forEach((v,i)=>{
  const t=mk("text",{x:409,y:yA(v)+(v===0?32:29),"font-size":80,"text-anchor":"end"},aAxes,aYTickLabels[i]);
  
  
});

// ---------- Panel (b) heatmap ----------
const heat=document.getElementById("heatmap");
const cellH=rowStepV*(yH(0)-yH(1));
const cellW=xH(colStepB)-xH(0);
function rowY(r){return yH(heatTopV-r*rowStepV);}
function columnField(c){return -100+c*colStepB;}
topRowValues.forEach((g,r)=>{
  const band=mk("rect",{x:xH(-100),y:rowY(r),width:xH(100)-xH(-100),height:cellH+0.6,fill:colorFor(g/10)},heat);
  
  
});
bottomRowValues.forEach((g,i)=>{
  const r=topRowValues.length+coreRows.length+i;
  const band=mk("rect",{x:xH(-100),y:rowY(r),width:xH(100)-xH(-100),height:cellH+0.6,fill:colorFor(g/10)},heat);
  
  
});
coreRows.forEach((row,i)=>{
  const r=topRowValues.length+i;
  row.forEach((g,c)=>{
    const cell=mk("rect",{x:xH(columnField(c)),y:rowY(r),width:cellW+0.6,height:cellH+0.6,fill:colorFor(g/10)},heat);
    
    
  });
});

// ---------- Panel (b) axes ----------
const bAxes=document.getElementById("b-axes");
const frameB=mk("rect",{x:422.5,y:1507,width:1231,height:718,fill:"none",stroke:"#000","stroke-width":5},bAxes);


bXTicks.forEach(b=>{
  const x=Math.min(Math.max(xH(b),422.5),1653.5);
  const top=mk("line",{x1:x,x2:x,y1:1495,y2:1507,stroke:"#000","stroke-width":5.5},bAxes);
  
  
  const bottom=mk("line",{x1:x,x2:x,y1:2225,y2:2237,stroke:"#000","stroke-width":5.5},bAxes);
  
  
});
bYTicks.forEach((v,i)=>{
  const y=yH(v);
  const left=mk("line",{x1:410,x2:422,y1:y,y2:y,stroke:"#000","stroke-width":5.5},bAxes);
  
  
  const right=mk("line",{x1:1654,x2:1666,y1:y,y2:y,stroke:"#000","stroke-width":5.5},bAxes);
  
  
  const t=mk("text",{x:389,y:y+32,"font-size":82,"text-anchor":"end"},bAxes,bYTickLabels[i]);
  
  
});
bXLabelTicks.forEach((b,i)=>{
  const s=bXTickLabels[i];
  const digits=s.replace(/[^0-9]/g,"").length;
  const t=mk("text",{x:xH(b)+digits*22.8,y:2316,"font-size":82,"text-anchor":"end"},bAxes,s);
  
  
});

// ---------- Colour bar ----------
const cbar=document.getElementById("colorbar");
const grad=document.getElementById("colorbar-gradient");
colorLevels.forEach((g,i)=>{
  const stop=mk("stop",{offset:g/9.25,"stop-color":colorHex[i]},grad);
  
  
});
const cbarFill=mk("rect",{x:1691,y:yC(9.25),width:55,height:yC(0)-yC(9.25),fill:"url(#colorbar-gradient)"},cbar);


const cbarFrame=mk("rect",{x:1691,y:1510.5,width:55.5,height:2226-1510.5,fill:"none",stroke:"#000","stroke-width":5.5},cbar);


colorbarTicks.forEach(g=>{
  const y=yC(g);
  const left=mk("line",{x1:1678,x2:1689,y1:y,y2:y,stroke:"#000","stroke-width":5.5},cbar);
  
  
  const right=mk("line",{x1:1749,x2:1759,y1:y,y2:y,stroke:"#000","stroke-width":5.5},cbar);
  
  
});
colorbarLabelTicks.forEach((g,i)=>{
  const t=mk("text",{x:1779,y:yC(g)+31,"font-size":80},cbar,colorbarTickLabels[i]);
  
  
});
</script>
</body>
</html>
